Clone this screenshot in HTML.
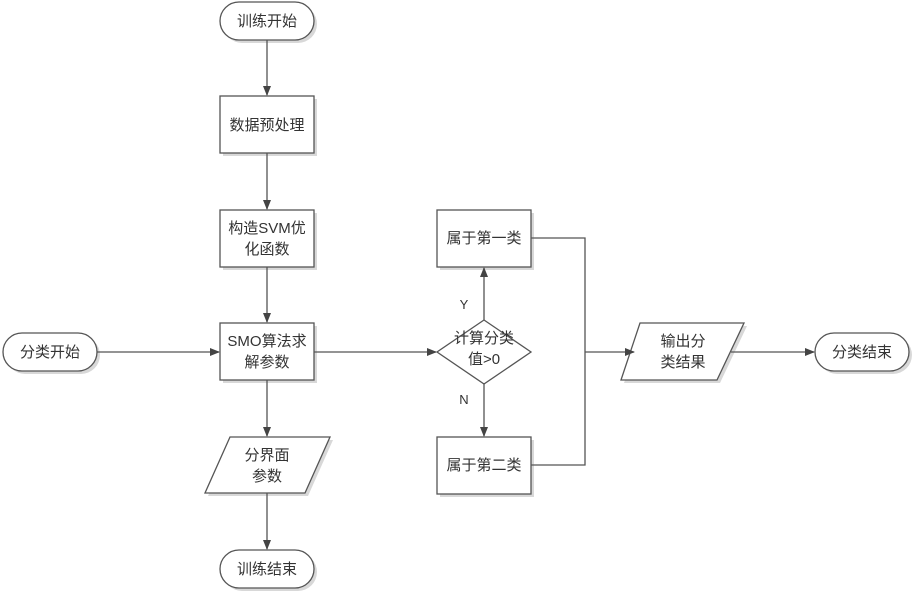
<!DOCTYPE html>
<html><head><meta charset="utf-8"><style>
body{margin:0;background:#fff}
svg text{font-family:"Liberation Sans","Noto Sans CJK SC",sans-serif;font-size:15px;fill:#333;text-anchor:middle}
</style></head><body>
<svg width="914" height="592" viewBox="0 0 914 592" xmlns="http://www.w3.org/2000/svg">
<defs>
<marker id="a" markerWidth="10" markerHeight="10" refX="9" refY="5" orient="auto" markerUnits="userSpaceOnUse">
<path d="M0,1 L10,5 L0,9 Z" fill="#444"/></marker>
</defs>
<g fill="#d8d8d8">
<rect x="223" y="5" width="94" height="38" rx="19"/>
<rect x="223" y="99" width="94" height="57"/>
<rect x="223" y="213" width="94" height="57"/>
<rect x="223" y="326" width="94" height="57"/>
<rect x="6" y="336" width="94" height="38" rx="19"/>
<rect x="440" y="213" width="94" height="57"/>
<rect x="440" y="440" width="94" height="57"/>
<rect x="818" y="336" width="94" height="38" rx="19"/>
<rect x="223" y="553" width="94" height="38" rx="19"/>
<polygon points="643,326 747,326 720,383 624,383"/>
<polygon points="233,440 333,440 308,496 208,496"/>
</g>
<g fill="#fff" stroke="#555" stroke-width="1.3">
<rect x="220" y="2" width="94" height="38" rx="19"/>
<rect x="220" y="96" width="94" height="57"/>
<rect x="220" y="210" width="94" height="57"/>
<rect x="220" y="323" width="94" height="57"/>
<rect x="3" y="333" width="94" height="38" rx="19"/>
<rect x="437" y="210" width="94" height="57"/>
<rect x="437" y="437" width="94" height="57"/>
<rect x="815" y="333" width="94" height="38" rx="19"/>
<rect x="220" y="550" width="94" height="38" rx="19"/>
<polygon points="640,323 744,323 717,380 621,380"/>
<polygon points="230,437 330,437 305,493 205,493"/>
<polygon points="484,320 531,352 484,384 437,352"/>
</g>
<g stroke="#555" stroke-width="1.3" fill="none">
<line x1="267" y1="40" x2="267" y2="95" marker-end="url(#a)"/>
<line x1="267" y1="153" x2="267" y2="209" marker-end="url(#a)"/>
<line x1="267" y1="267" x2="267" y2="322" marker-end="url(#a)"/>
<line x1="97" y1="352" x2="219" y2="352" marker-end="url(#a)"/>
<line x1="314" y1="352" x2="436" y2="352" marker-end="url(#a)"/>
<line x1="267" y1="380" x2="267" y2="436" marker-end="url(#a)"/>
<line x1="267" y1="493" x2="267" y2="549" marker-end="url(#a)"/>
<line x1="484" y1="320" x2="484" y2="268" marker-end="url(#a)"/>
<line x1="484" y1="384" x2="484" y2="436" marker-end="url(#a)"/>
<polyline points="531,238 585,238 585,465 531,465"/>
<line x1="585" y1="352" x2="634" y2="352" marker-end="url(#a)"/>
<line x1="731" y1="352" x2="814" y2="352" marker-end="url(#a)"/>
</g>
<text x="267" y="26">训练开始</text>
<text x="267" y="130">数据预处理</text>
<text x="267" y="233">构造SVM优</text>
<text x="267" y="254">化函数</text>
<text x="267" y="346">SMO算法求</text>
<text x="267" y="367">解参数</text>
<text x="50" y="357">分类开始</text>
<text x="484" y="343">计算分类</text>
<text x="484" y="364">值&gt;0</text>
<text x="464" y="309" style="font-size:13px">Y</text>
<text x="464" y="404" style="font-size:13px">N</text>
<text x="484" y="243">属于第一类</text>
<text x="484" y="470">属于第二类</text>
<text x="683" y="346">输出分</text>
<text x="683" y="367">类结果</text>
<text x="862" y="357">分类结束</text>
<text x="267" y="460">分界面</text>
<text x="267" y="481">参数</text>
<text x="267" y="574">训练结束</text>
</svg>
</body></html>
